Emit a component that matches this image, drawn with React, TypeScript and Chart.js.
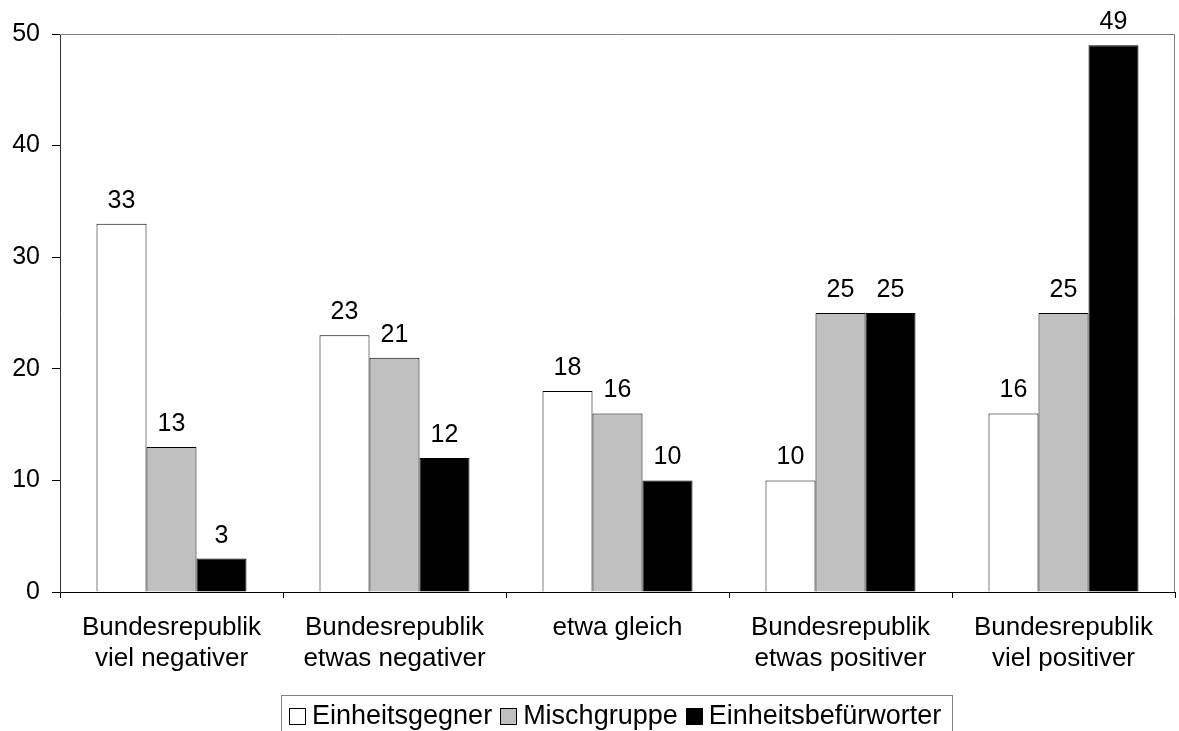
import React, { useEffect, useRef } from "react";
import { Chart, registerables } from "chart.js";

Chart.register(...registerables);

const categories: (string | string[])[] = [
  ["Bundesrepublik", "viel negativer"],
  ["Bundesrepublik", "etwas negativer"],
  "etwa gleich",
  ["Bundesrepublik", "etwas positiver"],
  ["Bundesrepublik", "viel positiver"],
];
const seriesNames = ["Einheitsgegner", "Mischgruppe", "Einheitsbefürworter"];
const gegner = [33, 23, 18, 10, 16];
const misch = [13, 21, 16, 25, 25];
const befuerworter = [3, 12, 10, 25, 49];
const seriesColors = ["#FFFFFF", "#C0C0C0", "#000000"];
const yTicks = [0, 10, 20, 30, 40, 50];

const FONT = "'Liberation Sans', Arial, sans-serif";

const valueLabels = {
  id: "valueLabels",
  afterDatasetsDraw(chart: any) {
    const ctx = chart.ctx;
    ctx.save();
    ctx.font = `25px ${FONT}`;
    ctx.fillStyle = "#000";
    ctx.textAlign = "center";
    ctx.textBaseline = "alphabetic";
    chart.data.datasets.forEach((ds: any, i: number) => {
      const meta = chart.getDatasetMeta(i);
      meta.data.forEach((el: any, j: number) => {
        ctx.fillText(String(ds.data[j]), el.x, el.y - 16);
      });
    });
    ctx.restore();
  },
};

const frame = {
  id: "frame",
  beforeDatasetsDraw(chart: any) {
    const { ctx, chartArea } = chart;
    ctx.save();
    ctx.strokeStyle = "#808080";
    ctx.lineWidth = 1;
    ctx.beginPath();
    ctx.moveTo(chartArea.left, chartArea.top + 0.5);
    ctx.lineTo(chartArea.right - 0.5, chartArea.top + 0.5);
    ctx.lineTo(chartArea.right - 0.5, chartArea.bottom);
    ctx.stroke();
    ctx.restore();
  },
};

const boxLegend = {
  id: "boxLegend",
  afterDraw(chart: any) {
    const ctx = chart.ctx;
    ctx.save();
    ctx.font = `27px ${FONT}`;
    const box = 17;
    const gapBoxText = 6;
    const gapItems = 8;
    const items = chart.data.datasets.map((ds: any) => ({
      label: ds.label,
      color: ds.backgroundColor,
      w: ctx.measureText(ds.label).width,
    }));
    const total =
      items.reduce((s: number, it: any) => s + box + gapBoxText + it.w, 0) +
      gapItems * (items.length - 1);
    const padL = 8;
    const padR = 11;
    const center = 617;
    const left = Math.round(center - (total + padL + padR) / 2);
    const right = left + total + padL + padR;
    const top = 695;
    ctx.strokeStyle = "#808080";
    ctx.lineWidth = 1;
    ctx.strokeRect(left + 0.5, top + 0.5, Math.round(right - left), 60);
    let x = left + padL;
    const boxTop = 708;
    items.forEach((it: any) => {
      const bx = Math.round(x);
      ctx.fillStyle = it.color;
      ctx.fillRect(bx, boxTop, box, box);
      ctx.strokeStyle = "#000";
      ctx.strokeRect(bx + 0.5, boxTop + 0.5, box - 1, box - 1);
      ctx.fillStyle = "#000";
      ctx.textAlign = "left";
      ctx.textBaseline = "alphabetic";
      ctx.fillText(it.label, x + box + gapBoxText, 724);
      x += box + gapBoxText + it.w + gapItems;
    });
    ctx.restore();
  },
};

export default function App() {
  const ref = useRef<HTMLCanvasElement>(null);
  useEffect(() => {
    if (!ref.current) return;
    const seriesData = [gegner, misch, befuerworter];
    const chart = new Chart(ref.current, {
      type: "bar",
      data: {
        labels: categories,
        datasets: seriesData.map((d, i) => ({
          label: seriesNames[i],
          data: d,
          backgroundColor: seriesColors[i],
          borderColor: "#000",
          borderWidth: 1,
          barPercentage: 1,
          categoryPercentage: 150 / 223,
        })),
      },
      options: {
        animation: false,
        responsive: false,
        devicePixelRatio: 1,
        layout: { padding: { left: 0, right: 4, top: 34, bottom: 0 } },
        plugins: { legend: { display: false }, tooltip: { enabled: false } },
        scales: {
          x: {
            grid: {
              display: true,
              drawOnChartArea: false,
              drawTicks: true,
              tickLength: 6,
              color: "#000",
              offset: true,
            },
            border: { color: "#000", width: 1 },
            ticks: {
              color: "#000",
              font: { family: FONT, size: 26, lineHeight: 1.2 },
              padding: 14,
              maxRotation: 0,
              autoSkip: false,
            },
            afterFit(scale: any) {
              scale.height = 731 - 592;
            },
          },
          y: {
            min: 0,
            max: 50,
            afterBuildTicks(scale: any) {
              scale.ticks = yTicks.map((v) => ({ value: v }));
            },
            grid: {
              drawOnChartArea: false,
              drawTicks: true,
              tickLength: 8,
              color: "#000",
            },
            border: { color: "#333", width: 1 },
            ticks: {
              color: "#000",
              font: { family: FONT, size: 25 },
              padding: 12,
            },
            afterFit(scale: any) {
              scale.width = 60;
            },
          },
        },
      },
      plugins: [frame, valueLabels, boxLegend],
    });
    return () => chart.destroy();
  }, []);
  return (
    <div style={{ position: "fixed", left: 0, top: 0, width: 1179, height: 731, background: "#fff" }}>
      <canvas ref={ref} width={1179} height={731} />
    </div>
  );
}
